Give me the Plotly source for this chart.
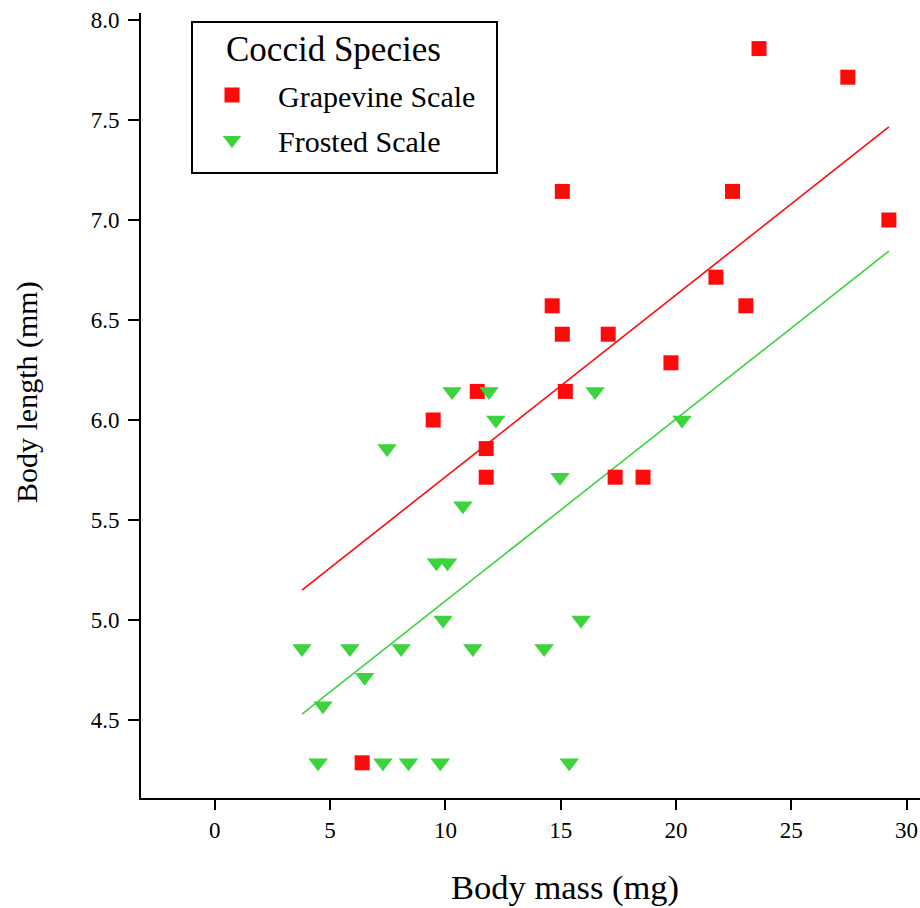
import numpy as np
import plotly.graph_objects as go

# ---- data ----
grape_mass = [23.6, 27.45, 15.07, 22.45, 29.23, 14.63, 15.07, 17.06, 21.73, 23.03,
              19.78, 9.47, 11.38, 15.2, 11.77, 11.77, 17.36, 18.57, 6.39]
grape_len = [7.857, 7.714, 7.143, 7.143, 7.0, 6.571, 6.429, 6.429, 6.714, 6.571,
             6.286, 6.0, 6.143, 6.143, 5.857, 5.714, 5.714, 5.714, 4.286]

frost_mass = [10.29, 11.89, 16.49, 12.19, 20.26, 7.47, 14.97, 10.76, 9.61, 10.09,
              9.9, 15.88, 3.78, 5.86, 8.08, 11.19, 14.28, 6.5, 4.69, 4.48,
              7.29, 8.4, 9.78, 15.37]
frost_len = [6.143, 6.143, 6.143, 6.0, 6.0, 5.857, 5.714, 5.571, 5.286, 5.286,
             5.0, 5.0, 4.857, 4.857, 4.857, 4.857, 4.857, 4.714, 4.571, 4.286,
             4.286, 4.286, 4.286, 4.286]

x_ticks = [0, 5, 10, 15, 20, 25, 30]
y_ticks = [4.5, 5.0, 5.5, 6.0, 6.5, 7.0, 7.5, 8.0]
y_tick_text = ["4.5", "5.0", "5.5", "6.0", "6.5", "7.0", "7.5", "8.0"]

RED = "#FF0A0A"
GREEN = "#3CD33C"
FONT = "Liberation Serif"

# ---- common-slope (ANCOVA) fit lines ----
gx, gy = np.array(grape_mass), np.array(grape_len)
fx, fy = np.array(frost_mass), np.array(frost_len)
sxy = ((gx - gx.mean()) * (gy - gy.mean())).sum() + ((fx - fx.mean()) * (fy - fy.mean())).sum()
sxx = ((gx - gx.mean()) ** 2).sum() + ((fx - fx.mean()) ** 2).sum()
slope = sxy / sxx
b_g = gy.mean() - slope * gx.mean()
b_f = fy.mean() - slope * fx.mean()
xmin = min(gx.min(), fx.min())
xmax = max(gx.max(), fx.max())
line_x = np.array([xmin, xmax])

fig = go.Figure()
fig.add_trace(go.Scatter(x=line_x, y=b_g + slope * line_x, mode="lines",
                         line=dict(color=RED, width=1.6), showlegend=False, hoverinfo="skip"))
fig.add_trace(go.Scatter(x=line_x, y=b_f + slope * line_x, mode="lines",
                         line=dict(color=GREEN, width=1.6), showlegend=False, hoverinfo="skip"))
fig.add_trace(go.Scatter(x=grape_mass, y=grape_len, mode="markers", name="Grapevine Scale",
                         legendgroup="g", marker=dict(symbol="square", size=15, color=RED)))
fig.add_trace(go.Scatter(x=frost_mass, y=frost_len, mode="markers", name="Frosted Scale",
                         legendgroup="f", marker=dict(symbol="triangle-down", size=17, color=GREEN)))

# plot area in pixels: x 141..920, y 13..798
def px_x(p):
    return (p - 141) / 779.0

def px_y(p):
    return (798 - p) / 785.0

fig.update_layout(
    width=920, height=908,
    margin=dict(l=141, r=0, t=13, b=110),
    paper_bgcolor="white", plot_bgcolor="white",
    font=dict(family=FONT, color="black", size=23),
    legend=dict(
        x=px_x(186), y=px_y(69), xanchor="left", yanchor="top",
        borderwidth=0, bgcolor="rgba(0,0,0,0)",
        font=dict(family=FONT, size=30, color="black"),
        itemwidth=82, tracegroupgap=3,
    ),
    shapes=[dict(type="rect", xref="paper", yref="paper",
                 x0=px_x(192), x1=px_x(497), y0=px_y(173), y1=px_y(22),
                 line=dict(color="black", width=2), fillcolor="rgba(0,0,0,0)", layer="above")],
    annotations=[
        dict(text="Coccid Species", xref="paper", yref="paper",
             x=px_x(224), y=px_y(50), xanchor="left", yanchor="middle",
             showarrow=False, font=dict(family=FONT, size=35, color="black")),
        dict(text="Body mass (mg)", xref="paper", yref="paper",
             x=px_x(565), y=px_y(887), xanchor="center", yanchor="middle",
             showarrow=False, font=dict(family=FONT, size=34.5, color="black")),
        dict(text="Body length (mm)", xref="paper", yref="paper", textangle=-90,
             x=px_x(27), y=px_y(392), xanchor="center", yanchor="middle",
             showarrow=False, font=dict(family=FONT, size=30, color="black")),
    ],
    xaxis=dict(
        range=[-3.2, 30.58], tickmode="array", tickvals=x_ticks,
        ticks="outside", ticklen=10, tickwidth=2, tickcolor="black",
        showline=True, linecolor="black", linewidth=2,
        showgrid=False, zeroline=False,
        tickfont=dict(family=FONT, size=23),
    ),
    yaxis=dict(
        range=[4.11, 8.035], tickmode="array", tickvals=y_ticks, ticktext=y_tick_text,
        ticks="outside", ticklen=11, tickwidth=2, tickcolor="black",
        showline=True, linecolor="black", linewidth=2, showgrid=False, zeroline=False,
        tickfont=dict(family=FONT, size=23), ticklabelstandoff=4,
    ),
)

fig.write_html("out.html")
